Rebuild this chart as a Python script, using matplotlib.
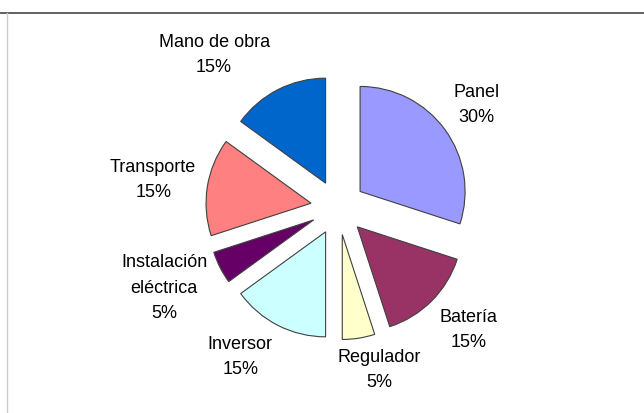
import matplotlib
matplotlib.use("Agg")
import matplotlib.pyplot as plt
from matplotlib.lines import Line2D

# data (clockwise from 12 o'clock)
categories = ["Panel", "Batería", "Regulador", "Inversor",
              "Instalación\neléctrica", "Transporte", "Mano de obra"]
percentages = [30, 15, 5, 15, 5, 15, 15]
colors = ["#9999FF", "#993366", "#FFFFCC", "#CCFFFF",
          "#660066", "#FF8080", "#0066CC"]

labels = [f"{c}\n{p}%" for c, p in zip(categories, percentages)]

# label centres, in pie-radius units from the pie centre
label_xy = [(1.32, 0.98), (1.24, -1.17), (0.39, -1.55), (-0.93, -1.42),
            (-1.657, -0.767), (-1.76, 0.26), (-1.18, 1.45)]

plt.rcParams["font.family"] = ["Liberation Sans", "DejaVu Sans"]

fig = plt.figure(figsize=(6.44, 4.13), dpi=100)
ax = fig.add_axes([0, 0, 1, 1])

wedges, texts = ax.pie(percentages, labels=labels, colors=colors,
                       explode=[0.26] * len(percentages),
                       startangle=90, counterclock=False,
                       wedgeprops=dict(edgecolor="#404040", linewidth=0.8),
                       textprops=dict(fontsize=13, color="black",
                                      linespacing=1.62))
for t, xy in zip(texts, label_xy):
    t.set_position(xy)
    t.set_ha("center")
    t.set_va("center")

# place pie: centre at (338, 207.5) px, radius ~105 px
ax.set_xlim(-338 / 105, (644 - 338) / 105)
ax.set_ylim(-(413 - 207.5) / 105, 207.5 / 105)
ax.set_aspect("equal")
ax.axis("off")

# frame lines of the original chart area
fig.add_artist(Line2D([0, 1], [1 - 13 / 413, 1 - 13 / 413],
                      transform=fig.transFigure, color="#555555", lw=1.3))
fig.add_artist(Line2D([7 / 644, 7 / 644], [0, 1 - 13 / 413],
                      transform=fig.transFigure, color="#cccccc", lw=1.0))

fig.savefig("out.png", dpi=100)
